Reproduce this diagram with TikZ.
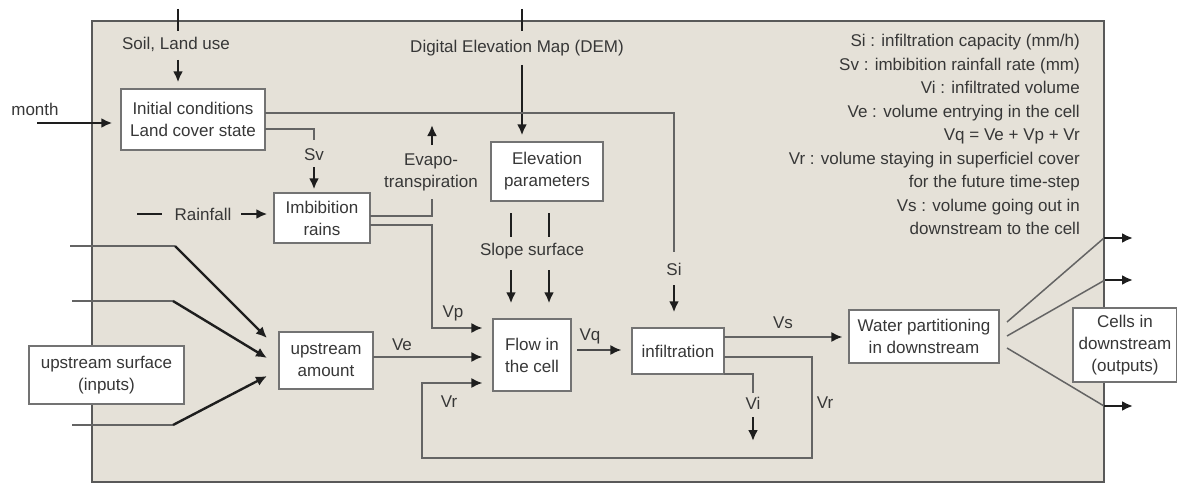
\documentclass[tikz,border=0pt]{standalone}
\usepackage{fontspec}
\setmainfont{Liberation Sans}
\usetikzlibrary{arrows.meta}
\definecolor{bg}{RGB}{229,225,216}
\definecolor{txt}{RGB}{55,55,55}
\definecolor{ln}{RGB}{100,100,100}
\definecolor{bx}{RGB}{115,115,115}
\definecolor{dk}{RGB}{30,30,30}
\begin{document}
\begin{tikzpicture}[x=1pt,y=-1pt,
  font=\fontsize{17}{22}\selectfont, text=txt,
  box/.style={draw=bx, line width=1.4pt, fill=white, inner sep=0pt, align=center},
  lbl/.style={inner sep=0pt, align=center},
  arr/.style={draw=dk, line width=2.4pt, -{Latex[length=11pt,width=10pt]}},
  garr/.style={draw=ln, line width=1.5pt, -{Latex[length=11pt,width=10pt,color=dk]}},
  plain/.style={draw=ln, line width=1.5pt},
  tick/.style={draw=dk, line width=2.4pt}]
\useasboundingbox (0,0) rectangle (1177,484);
\fill[white] (0,0) rectangle (1177,484);
\draw[draw=black!65, line width=1.8pt, fill=bg] (92,21) rectangle (1104,482);

% boxes
\node[box, minimum width=144pt, minimum height=61pt] (init) at (193,119.5) {Initial conditions\\Land cover state};
\node[box, minimum width=96pt, minimum height=50pt] (imb) at (322,218) {Imbibition\\rains};
\node[box, minimum width=112pt, minimum height=59pt] (elev) at (547,171.5) {Elevation\\parameters};
\node[box, minimum width=78pt, minimum height=72pt] (flow) at (532,355) {Flow in\\the cell};
\node[box, minimum width=92pt, minimum height=46pt] (infil) at (678,351) {infiltration};
\node[box, minimum width=150pt, minimum height=53pt] (water) at (924,336.5) {Water partitioning\\in downstream};
\node[box, minimum width=94pt, minimum height=57pt] (upamt) at (326,360.5) {upstream\\amount};

% labels
\node[lbl] (soil) at (176,44) {Soil, Land use};
\node[lbl] (dem) at (517,48) {Digital Elevation Map (DEM)};
\node[lbl] (month) at (35,109) {month};
\node[lbl] (sv) at (314,155) {Sv};
\node[lbl] (rain) at (203,214) {Rainfall};
\node[lbl] (evap) at (431,172.5) {Evapo-\\transpiration};
\node[lbl] (slope) at (532,251) {Slope surface};
\node[lbl] (si) at (674,269) {Si};
\node[lbl] (vp) at (453,313) {Vp};
\node[lbl] (ve) at (402,345) {Ve};
\node[lbl] (vq) at (590,336) {Vq};
\node[lbl] (vr1) at (449,402) {Vr};
\node[lbl] (vr2) at (825,403) {Vr};
\node[lbl] (vs) at (783,323) {Vs};
\node[lbl] (vi) at (753,403) {Vi};
\node[lbl, align=right, anchor=north east, font=\fontsize{17}{23.5}\selectfont] (legend) at (1080,34)
 {Si : infiltration capacity (mm/h)\\Sv : imbibition rainfall rate (mm)\\Vi : infiltrated volume\\Ve : volume entrying in the cell\\Vq = Ve + Vp + Vr\\Vr : volume staying in superficiel cover\\for the future time-step\\Vs : volume going out in\\downstream to the cell};

% soil
\coordinate (soilA) at (178,9); \coordinate (soilB) at (178,31);
\draw[tick] (soilA) -- (soilB);
\coordinate (soilC) at (178,60);
\draw[arr, shorten >=6pt] (soilC) -- (soilC |- init.north);
% month
\coordinate (mon) at (37,123);
\draw[arr, shorten >=8pt] (mon) -- (mon -| init.west);
% DEM
\coordinate (demA) at (522,9); \coordinate (demB) at (522,31);
\draw[tick] (demA) -- (demB);
\coordinate (demC) at (522,65);
\draw[arr, shorten >=6pt] (demC) -- (demC |- elev.north);
% Si
\coordinate (siS) at (265,113); \coordinate (siE) at (674,252);
\draw[plain] (siS) -| (siE);
\coordinate (siC) at (674,285);
\draw[arr, shorten >=15pt] (siC) -- (siC |- infil.north);
% Sv
\coordinate (svS) at (265,129); \coordinate (svE) at (314,140);
\draw[plain] (svS) -| (svE);
\coordinate (svC) at (314,167);
\draw[arr, shorten >=3pt] (svC) -- (svC |- imb.north);
% rain
\coordinate (rA) at (137,214); \coordinate (rB) at (162,214);
\draw[tick] (rA) -- (rB);
\coordinate (rC) at (241,214);
\draw[arr, shorten >=6pt] (rC) -- (rC -| imb.west);
% evap
\coordinate (evS) at (370,216); \coordinate (evE) at (432,199);
\draw[plain] (evS) -| (evE);
\coordinate (evA) at (432,145); \coordinate (evB) at (432,125);
\draw[arr] (evA) -- (evB);
% Vp
\coordinate (vpS) at (370,225); \coordinate (vpM) at (432,328);
\draw[garr, shorten >=10pt] (vpS) -| (vpM) -- (vpM -| flow.west);
% slope
\foreach \n/\x in {sl1/511, sl2/549} {
  \coordinate (\n a) at (\x,213); \coordinate (\n b) at (\x,237);
  \draw[tick] (\n a) -- (\n b);
  \coordinate (\n c) at (\x,270);
  \draw[arr, shorten >=15pt] (\n c) -- (\n c |- flow.north);
}
% Ve
\coordinate (veS) at (373,357);
\draw[garr, shorten >=10pt] (veS) -- (veS -| flow.west);
% Vr loop
\coordinate (vrS) at (724,357); \coordinate (vrA) at (812,458); \coordinate (vrB) at (422,383);
\draw[garr, shorten >=10pt] (vrS) -| (vrA) -| (vrB) -- (vrB -| flow.west);
% Vq
\coordinate (vqS) at (577,350);
\draw[garr, draw=dk!80, shorten >=10pt] (vqS) -- (vqS -| infil.west);
% Vs
\coordinate (vsS) at (724,337);
\draw[garr, shorten >=6pt] (vsS) -- (vsS -| water.west);
% Vi
\coordinate (viS) at (724,374); \coordinate (viE) at (753,393);
\draw[plain] (viS) -| (viE);
\coordinate (viA) at (753,417); \coordinate (viB) at (753,441);
\draw[arr] (viA) -- (viB);
% fans
\coordinate (f1s) at (1007,322); \coordinate (f1m) at (1104,238); \coordinate (f1e) at (1133,238);
\coordinate (f2s) at (1007,336); \coordinate (f2m) at (1105,280); \coordinate (f2e) at (1133,280);
\coordinate (f3s) at (1007,348); \coordinate (f3m) at (1104,406); \coordinate (f3e) at (1133,406);
\foreach \f in {f1,f2,f3} {
  \draw[plain] (\f s) -- (\f m);
  \draw[arr] (\f m) -- (\f e);
}
% inputs
\coordinate (i1a) at (70,246);  \coordinate (i1b) at (175,246); \coordinate (i1c) at (267,338);
\coordinate (i2a) at (72,301);  \coordinate (i2b) at (173,301); \coordinate (i2c) at (267,358);
\coordinate (i3a) at (72,425);  \coordinate (i3b) at (173,425); \coordinate (i3c) at (267,376);
\foreach \i in {i1,i2,i3} {
  \draw[plain] (\i a) -- (\i b);
  \draw[arr] (\i b) -- (\i c);
}
% boxes straddling border
\node[box, minimum width=155pt, minimum height=58pt] (upsurf) at (106.5,375) {upstream surface\\(inputs)};
\node[box, minimum width=104pt, minimum height=74pt] (cells) at (1125,345) {Cells in\\downstream\\(outputs)};
\end{tikzpicture}
\end{document}
